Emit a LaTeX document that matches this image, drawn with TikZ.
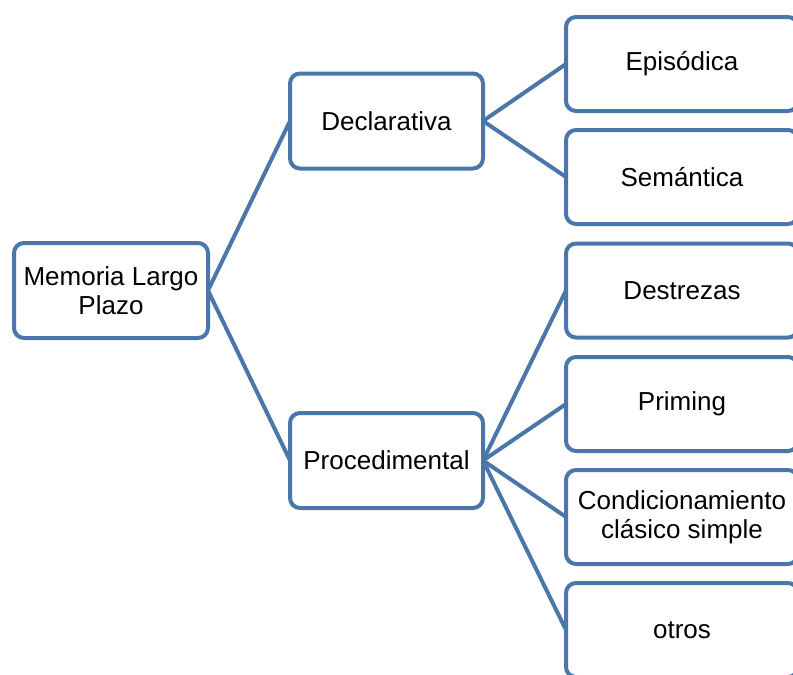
\documentclass[tikz,border=0pt]{standalone}
\usepackage{fontspec}
\setmainfont{Liberation Sans}
\definecolor{boxblue}{RGB}{74,118,170}
\begin{document}
\begin{tikzpicture}[x=1pt,y=-1pt,
  box/.style={draw=boxblue, line width=4pt, rounded corners=10pt, fill=white,
    align=center, inner sep=0pt, outer sep=0pt,
    font=\fontsize{26}{29}\selectfont},
  leafbox/.style={box, minimum width=232pt, minimum height=94pt},
  midbox/.style={box, minimum width=193pt, minimum height=95pt},
  link/.style={draw=boxblue, line width=4pt}]
\useasboundingbox (0,0) rectangle (793,675);
\clip (0,0) rectangle (793,675);
% root
\node[box, minimum width=194pt, minimum height=95pt] (mlp) at (111,290.5) {Memoria Largo\\Plazo};
% second level
\node[midbox] (decl) at (386.5,121) {Declarativa};
\node[midbox] (proc) at (386.5,460.5) {Procedimental};
% leaves
\node[leafbox] (epi) at (682,64) {Episódica};
\node[leafbox] (sem) at (682,177) {Semántica};
\node[leafbox] (des) at (682,290.5) {Destrezas};
\node[leafbox] (pri) at (682,404) {Priming};
\node[leafbox] (con) at (682,517) {Condicionamiento\\clásico simple};
\node[leafbox] (otr) at (682,630) {otros};
% connectors
\path[link] (mlp.east) -- (decl.west);
\path[link] (mlp.east) -- (proc.west);
\path[link] (decl.east) -- (epi.west);
\path[link] (decl.east) -- (sem.west);
\path[link] (proc.east) -- (des.west);
\path[link] (proc.east) -- (pri.west);
\path[link] (proc.east) -- (con.west);
\path[link] (proc.east) -- (otr.west);
\end{tikzpicture}
\end{document}
